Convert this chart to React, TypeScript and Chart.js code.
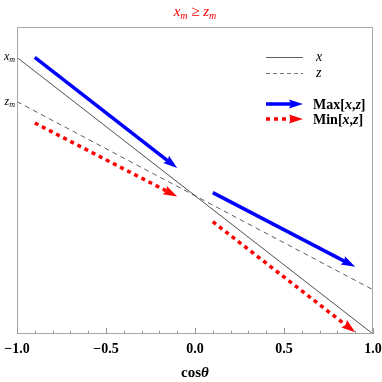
import React, { useEffect, useRef } from "react";
import { Chart, registerables } from "chart.js";
Chart.register(...registerables);

const cosTheta = [-1, 1];
const xValues = [1.0, 0.0];
const zValues = [0.84, 0.16];

const maxLeftX = [-0.9, -0.1];
const maxLeftY = [1.0, 0.6];
const maxRightX = [0.1, 0.9];
const maxRightY = [0.511, 0.243];
const minLeftX = [-0.9, -0.1];
const minLeftY = [0.763, 0.497];
const minRightX = [0.1, 0.9];
const minRightY = [0.406, 0.006];

const xMajorTicks = [-1, -0.5, 0, 0.5, 1];
const xTickLabels = ["\u22121.0", "\u22120.5", "0.0", "0.5", "1.0"];
const yLabelValues = [1.0, 0.84];
const yLabelNames = ["x", "z"];

const SERIF = "'Liberation Serif', 'DejaVu Serif', serif";
const BLUE = "#0000ff";
const RED = "#ff0000";

type Run = { t: string; f: string; dy?: number };

function drawRuns(ctx: CanvasRenderingContext2D, runs: Run[], x: number, y: number, align: "left" | "center" | "right", color: string) {
  ctx.save();
  ctx.fillStyle = color;
  ctx.textBaseline = "alphabetic";
  ctx.textAlign = "left";
  let total = 0;
  for (const r of runs) {
    ctx.font = r.f;
    total += ctx.measureText(r.t).width;
  }
  let cx = align === "left" ? x : align === "center" ? x - total / 2 : x - total;
  for (const r of runs) {
    ctx.font = r.f;
    ctx.fillText(r.t, cx, y + (r.dy || 0));
    cx += ctx.measureText(r.t).width;
  }
  ctx.restore();
}

function head(ctx: CanvasRenderingContext2D, x0: number, y0: number, x1: number, y1: number, color: string) {
  const a = Math.atan2(y1 - y0, x1 - x0);
  const L = 14, W = 4.6;
  ctx.save();
  ctx.fillStyle = color;
  ctx.translate(x1, y1);
  ctx.rotate(a);
  ctx.beginPath();
  ctx.moveTo(0, 0);
  ctx.lineTo(-L, -W);
  ctx.lineTo(-L + 2, 0);
  ctx.lineTo(-L, W);
  ctx.closePath();
  ctx.fill();
  ctx.restore();
}

function shaft(xs: number[], ys: number[]) {
  const f = 0.95;
  return [
    { x: xs[0], y: ys[0] },
    { x: xs[0] + (xs[1] - xs[0]) * f, y: ys[0] + (ys[1] - ys[0]) * f },
  ];
}

const arrows = [
  { xs: maxLeftX, ys: maxLeftY, color: BLUE },
  { xs: maxRightX, ys: maxRightY, color: BLUE },
  { xs: minLeftX, ys: minLeftY, color: RED },
  { xs: minRightX, ys: minRightY, color: RED },
];

const decor = {
  id: "decor",
  afterDatasetsDraw(chart: any) {
    const ctx = chart.ctx as CanvasRenderingContext2D;
    const xs = chart.scales.x, ys = chart.scales.y;
    for (const a of arrows) {
      head(ctx, xs.getPixelForValue(a.xs[0]), ys.getPixelForValue(a.ys[0]), xs.getPixelForValue(a.xs[1]), ys.getPixelForValue(a.ys[1]), a.color);
    }
  },
  afterDraw(chart: any) {
    const ctx = chart.ctx as CanvasRenderingContext2D;
    const area = chart.chartArea;
    const xs = chart.scales.x, ys = chart.scales.y;
    ctx.save();
    // frame
    ctx.strokeStyle = "#a6a6a6";
    ctx.lineWidth = 1;
    ctx.strokeRect(Math.round(area.left) + 0.5, Math.round(area.top) + 0.5, Math.round(area.right - area.left) - 1, Math.round(area.bottom - area.top) - 1);
    // ticks
    ctx.strokeStyle = "#999999";
    for (const t of xs.ticks) {
      const v = t.value;
      const major = xMajorTicks.some((m) => Math.abs(m - v) < 1e-6);
      const px = Math.round(xs.getPixelForValue(v)) + 0.5;
      const len = major ? 6 : 3.5;
      ctx.beginPath();
      ctx.moveTo(px, area.bottom);
      ctx.lineTo(px, area.bottom - len);
      ctx.stroke();
    }
    ctx.restore();
    // y labels
    yLabelValues.forEach((v, i) => {
      const py = ys.getPixelForValue(v);
      drawRuns(ctx, [
        { t: yLabelNames[i], f: `italic 12px ${SERIF}` },
        { t: "m", f: `italic 8px ${SERIF}`, dy: 2 },
      ], area.left - 2, py + 3, "right", "#000");
    });
    // title
    drawRuns(ctx, [
      { t: "x", f: `italic 15px ${SERIF}` },
      { t: "m", f: `italic 10px ${SERIF}`, dy: 2.5 },
      { t: " \u2265 ", f: `15px ${SERIF}` },
      { t: "z", f: `italic 15px ${SERIF}` },
      { t: "m", f: `italic 10px ${SERIF}`, dy: 2.5 },
    ], (area.left + area.right) / 2, 16, "center", RED);
    // x axis title
    drawRuns(ctx, [
      { t: "cos", f: `bold 15px ${SERIF}` },
      { t: "\u03b8", f: `italic bold 15px ${SERIF}` },
    ], (area.left + area.right) / 2, 377, "center", "#000");
    // legend
    const lx0 = 266, lx1 = 303;
    ctx.save();
    ctx.strokeStyle = "#333";
    ctx.lineWidth = 0.8;
    ctx.beginPath();
    ctx.moveTo(lx0, 57.5); ctx.lineTo(lx1, 57.5); ctx.stroke();
    ctx.setLineDash([4, 3]);
    ctx.strokeStyle = "#555";
    ctx.beginPath();
    ctx.moveTo(lx0, 73.5); ctx.lineTo(lx1, 73.5); ctx.stroke();
    ctx.setLineDash([]);
    ctx.lineWidth = 3.5;
    ctx.strokeStyle = BLUE;
    ctx.beginPath();
    ctx.moveTo(lx0, 104); ctx.lineTo(lx1 - 8, 104); ctx.stroke();
    ctx.setLineDash([4, 4]);
    ctx.strokeStyle = RED;
    ctx.beginPath();
    ctx.moveTo(lx0, 119); ctx.lineTo(lx1 - 8, 119); ctx.stroke();
    ctx.restore();
    head(ctx, lx0, 104, lx1, 104, BLUE);
    head(ctx, lx0, 119, lx1, 119, RED);
    drawRuns(ctx, [{ t: "x", f: `italic 14px ${SERIF}` }], 316, 61, "left", "#000");
    drawRuns(ctx, [{ t: "z", f: `italic 14px ${SERIF}` }], 316, 77, "left", "#000");
    const B = `bold 14px ${SERIF}`, BI = `italic bold 14px ${SERIF}`;
    drawRuns(ctx, [{ t: "Max[", f: B }, { t: "x", f: BI }, { t: ",", f: B }, { t: "z", f: BI }, { t: "]", f: B }], 313, 109, "left", "#000");
    drawRuns(ctx, [{ t: "Min[", f: B }, { t: "x", f: BI }, { t: ",", f: B }, { t: "z", f: BI }, { t: "]", f: B }], 313, 124, "left", "#000");
  },
};

export default function App() {
  const ref = useRef<HTMLCanvasElement | null>(null);
  useEffect(() => {
    if (!ref.current) return;
    const lineData = (ys: number[]) => cosTheta.map((x, i) => ({ x, y: ys[i] }));
    const arrowSets = arrows.map((a) => ({
      data: shaft(a.xs, a.ys),
      borderColor: a.color,
      borderWidth: 3.5,
      borderDash: a.color === RED ? [4, 4] : [],
      borderCapStyle: "butt",
      pointRadius: 0,
      showLine: true,
      fill: false,
    }));
    const chart = new Chart(ref.current, {
      type: "scatter",
      data: {
        datasets: [
          { data: lineData(xValues), borderColor: "#222", borderWidth: 0.8, showLine: true, pointRadius: 0 },
          { data: lineData(zValues), borderColor: "#333", borderWidth: 0.8, borderDash: [5, 4], showLine: true, pointRadius: 0 },
          ...arrowSets,
        ] as any,
      },
      options: {
        animation: false,
        responsive: false,
        maintainAspectRatio: false,
        layout: { padding: { top: 27, right: 9, left: 0, bottom: 0 } },
        plugins: { legend: { display: false }, tooltip: { enabled: false }, title: { display: false } },
        scales: {
          x: {
            type: "linear",
            min: -1,
            max: 1,
            grid: { display: false, drawTicks: false },
            border: { display: false },
            ticks: {
              stepSize: 0.1,
              autoSkip: false,
              maxRotation: 0,
              padding: 7,
              color: "#000",
              font: { family: SERIF, weight: "bold", size: 14 },
              callback: (v: any) => {
                const i = xMajorTicks.findIndex((m) => Math.abs(m - Number(v)) < 1e-6);
                return i >= 0 ? xTickLabels[i] : "";
              },
            },
            afterFit: (s: any) => { s.height = 48; s.paddingLeft = 0; s.paddingRight = 0; },
          },
          y: {
            type: "linear",
            min: 0,
            max: 1.11,
            grid: { display: false, drawTicks: false },
            border: { display: false },
            ticks: { display: false },
            afterFit: (s: any) => { s.width = 17; s.paddingTop = 0; s.paddingBottom = 0; },
          },
        },
      } as any,
      plugins: [decor],
    });
    return () => chart.destroy();
  }, []);
  return (
    <div style={{ position: "fixed", left: 0, top: 0, width: 382, height: 382, background: "#fff" }}>
      <canvas ref={ref} width={382} height={382} style={{ width: 382, height: 382, display: "block" }} />
    </div>
  );
}
